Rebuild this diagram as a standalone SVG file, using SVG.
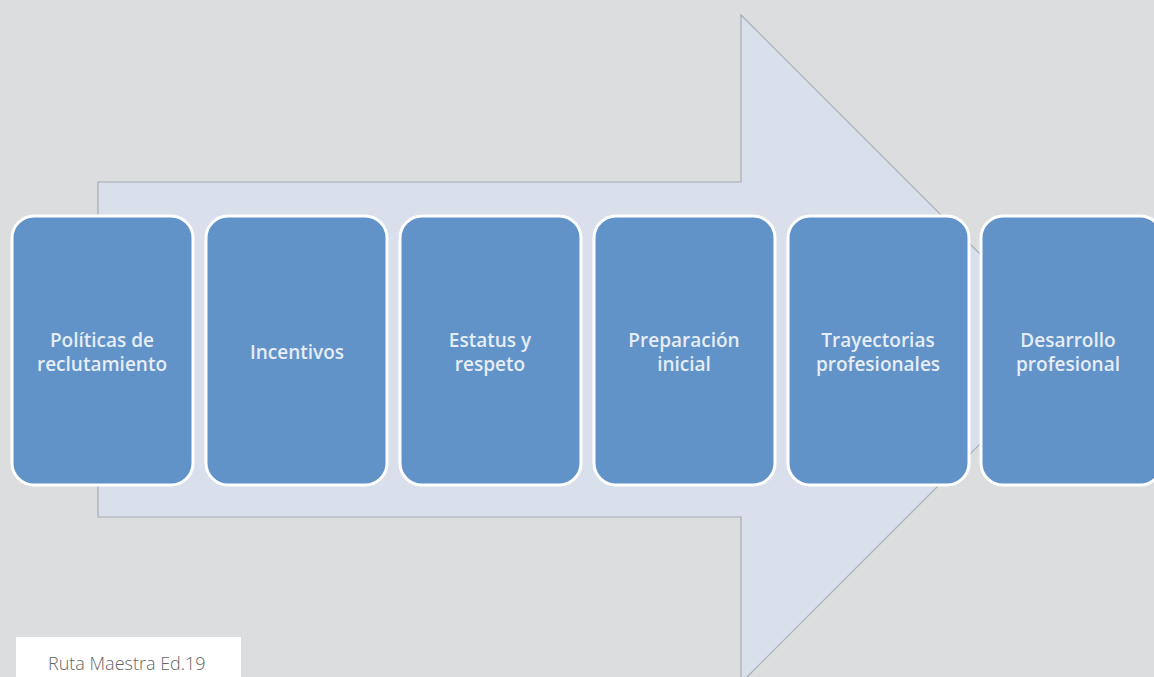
<svg xmlns="http://www.w3.org/2000/svg" width="1154" height="677" viewBox="0 0 1154 677">
<style>
.box{fill:#6193c8;stroke:#ffffff;stroke-width:3}
.lbl{font-family:"Open Sans","Noto Sans",sans-serif;font-size:19px;font-weight:600;fill:#e6edf6;text-anchor:middle}
</style>
<rect width="1154" height="677" fill="#dcddde"/>
<g id="arrow">
<polygon points="98,182 741,182 741,15 1075,349 741,683 741,517 98,517" fill="#d9e0ec" stroke="#a8acb2" stroke-width="1.2"/>
</g>
<g id="n1"><rect class="box" x="12" y="216" width="181" height="269" rx="22"/><text class="lbl" x="102" y="347">Políticas de</text><text class="lbl" x="102" y="371">reclutamiento</text></g>
<g id="n2"><rect class="box" x="206" y="216" width="181" height="269" rx="22"/><text class="lbl" x="297" y="359">Incentivos</text></g>
<g id="n3"><rect class="box" x="400" y="216" width="181" height="269" rx="22"/><text class="lbl" x="490" y="347">Estatus y</text><text class="lbl" x="490" y="371">respeto</text></g>
<g id="n4"><rect class="box" x="594" y="216" width="181" height="269" rx="22"/><text class="lbl" x="684" y="347">Preparación</text><text class="lbl" x="684" y="371">inicial</text></g>
<g id="n5"><rect class="box" x="788" y="216" width="181" height="269" rx="22"/><text class="lbl" x="878" y="347">Trayectorias</text><text class="lbl" x="878" y="371">profesionales</text></g>
<g id="n6"><rect class="box" x="981" y="216" width="181" height="269" rx="22"/><text class="lbl" x="1068" y="347">Desarrollo</text><text class="lbl" x="1068" y="371">profesional</text></g>
<g id="caption"><rect x="16" y="637" width="225" height="40" fill="#ffffff"/><text x="48" y="670" font-family="'Open Sans',sans-serif" font-size="18" font-weight="300" fill="#666666">Ruta Maestra Ed.19</text></g>
</svg>
